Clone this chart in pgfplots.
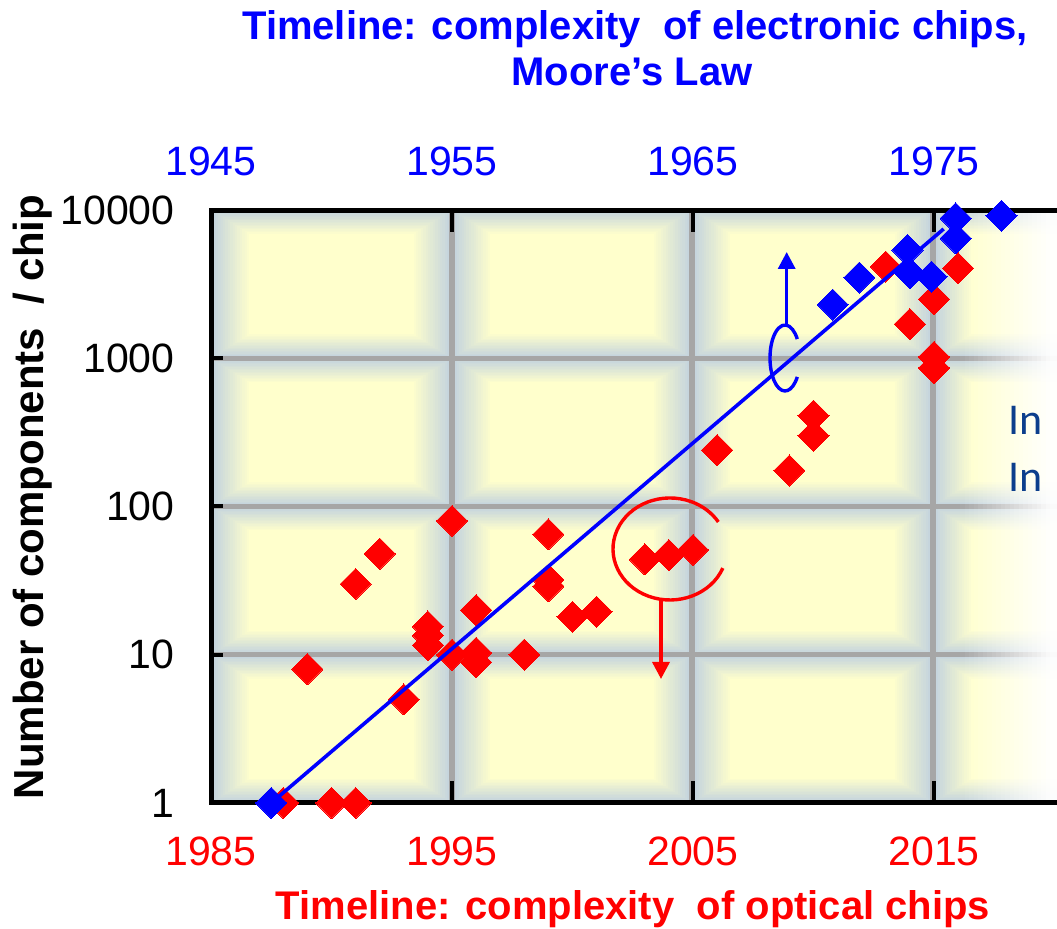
\documentclass[border=0pt]{standalone}
\usepackage{pgfplots}
\pgfplotsset{compat=1.18}
\usepackage{fontspec}
\setmainfont{Liberation Sans}
\newfontfamily\calibri{Carlito}
\usetikzlibrary{arrows.meta}
\definecolor{celledge}{RGB}{194,210,222}
\definecolor{cellmid}{RGB}{255,255,204}
\definecolor{gridgray}{RGB}{166,166,166}
\definecolor{inblue}{RGB}{12,62,140}
\newcommand{\tickfont}{\fontsize{20.5}{24}\selectfont}
\newcommand{\titlefont}{\fontsize{20}{24}\selectfont\bfseries}
\begin{document}
\begin{tikzpicture}
\useasboundingbox (0,0) rectangle (528.5pt,464.5pt);
\clip (0,0) rectangle (528.5pt,464.5pt);
% ---------- background (image pixel coordinates, y downwards) ----------
\begin{scope}[x=0.5pt,y=-0.5pt,yshift=464.5pt]
  \foreach \xa/\xb in {211/452,452/692,692/933,933/1174}{
    \foreach \ya/\yb in {210/358.25,358.25/506.5,506.5/654.75,654.75/803}{
      \foreach \k in {0,...,16}{
        \pgfmathsetmacro{\pc}{100*\k/16}
        \fill[cellmid!\pc!celledge] (\xa+2.4*\k,\ya+1.5*\k) rectangle (\xb-2.4*\k,\yb-1.5*\k);
      }
    }
  }
  \foreach \x in {452,692,933} \draw[gridgray, line width=2.6pt] (\x,210) -- (\x,803);
  \foreach \y in {358.25,506.5,654.75} \draw[gridgray, line width=2.6pt] (211,\y) -- (1060,\y);
  % white fade at the right edge
  \foreach \i in {0,...,19}{
    \pgfmathsetmacro{\op}{0.95*(\i+0.5)/20}
    \fill[white, opacity=\op] (960+4.5*\i,140) rectangle (964.5+4.5*\i,929);
  }
  \fill[white, opacity=0.95] (1050,140) rectangle (1060,929);
\end{scope}
% ---------- optical chips (bottom axis) ----------
\begin{axis}[
  at={(105.5pt,63pt)}, anchor=south west,
  scale only axis, width=432pt, height=296.5pt,
  xmin=1985, xmax=2020.85,
  ymode=log, ymin=1, ymax=10000,
  axis line style={black, line width=2.5pt},
  xtick={1985,1995,2005,2015}, xticklabels={1985,1995,2005,2015},
  ytick={1,10,100,1000,10000}, yticklabels={1,10,100,1000,10000},
  yminorticks=false, xminorticks=false,
  tick align=inside, major tick length=11pt,
  tick style={black, line width=2pt},
  ytick style={/pgfplots/major tick length=6pt},
  xticklabel style={text=red, font=\tickfont, anchor=base, yshift=-31.5pt, inner sep=0pt},
  yticklabel style={text=black, font=\tickfont, anchor=east, inner sep=0pt, xshift=-18pt},
  clip=false,
]
\addplot[red, only marks, mark=square*, mark size=5.5pt,
  mark options={rotate=45, fill=red, draw=red, line width=0pt}] coordinates {
  (1988,1) (1990,1) (1991,1)
  (1989,8) (1991,30) (1992,48) (1993,5)
  (1994,15.5) (1994,13.5) (1994,11.6)
  (1995,80) (1995,10)
  (1996,20) (1996,10.3) (1996,8.9)
  (1998,10)
  (1999,65) (1999,32) (1999,29)
  (2000,18) (2001,19.5)
  (2003,44) (2004,47) (2005,51)
  (2006,240) (2009,175) (2010,410) (2010,300)
  (2013,4150) (2014,1700) (2015,2500) (2015,1020) (2015,860) (2016,4050)
};
\end{axis}
% ---------- electronic chips (top axis) ----------
\begin{axis}[
  at={(105.5pt,63pt)}, anchor=south west,
  scale only axis, width=432pt, height=296.5pt,
  xmin=1945, xmax=1980.85,
  ymode=log, ymin=1, ymax=10000,
  axis x line*=top, axis y line=none,
  x axis line style={draw=none},
  xtick={1945,1955,1965,1975}, xticklabels={1945,1955,1965,1975},
  xminorticks=false, yminorticks=false,
  xtick style={draw=none},
  xticklabel style={text=blue, font=\tickfont, anchor=base, yshift=17.5pt, inner sep=0pt},
  clip=false,
]
\addplot[blue, line width=1.8pt] coordinates {(1947.5,1) (1975.4,7450)};
\addplot[blue, only marks, mark=square*, mark size=5.5pt,
  mark options={rotate=45, fill=blue, draw=blue, line width=0pt}] coordinates {
  (1947.5,1) (1970.8,2300) (1971.9,3500)
  (1973.9,5370) (1974.0,3740) (1974.9,3550)
  (1975.9,8790) (1975.9,6440) (1977.8,9120)
};
\end{axis}
% ---------- annotations and texts ----------
\begin{scope}[x=0.5pt,y=-0.5pt,yshift=464.5pt]
  % blue bracket and arrow (electronic -> top axis)
  \draw[blue, line width=1.7pt] (785,358) ++(35:15 and 33) arc[start angle=35, end angle=325, x radius=15, y radius=33];
  \draw[blue, line width=1.7pt, -{Triangle[width=8.5pt,length=8.5pt]}] (786.7,326) -- (786.7,252);
  % red bracket and arrow (optical -> bottom axis)
  \draw[red, line width=1.7pt] (670,549) ++(22:57 and 51) arc[start angle=22, end angle=328, x radius=57, y radius=51];
  \draw[red, line width=1.7pt, -{Triangle[width=8.5pt,length=8.5pt]}] (661,600) -- (661,679);
  % texts
  \node[font=\titlefont, text=blue, anchor=base, inner sep=0pt] at (635,40) {Timeline: complexity \ of electronic chips,};
  \node[font=\titlefont, text=blue, anchor=base, inner sep=0pt] at (632,86) {Moore’s Law};
  \node[font=\titlefont, text=red, anchor=base, inner sep=0pt] at (633,920) {Timeline: complexity \ of optical chips};
  \node[font=\fontsize{21}{24}\selectfont\bfseries, text=black, rotate=90, anchor=base, inner sep=0pt] at (43,497) {Number of components \ / chip};
  \node[font=\calibri\fontsize{22}{26}\selectfont, text=inblue, anchor=base west, inner sep=0pt] at (1008,435) {In};
  \node[font=\calibri\fontsize{22}{26}\selectfont, text=inblue, anchor=base west, inner sep=0pt] at (1008,492) {In};
\end{scope}
\end{tikzpicture}
\end{document}
